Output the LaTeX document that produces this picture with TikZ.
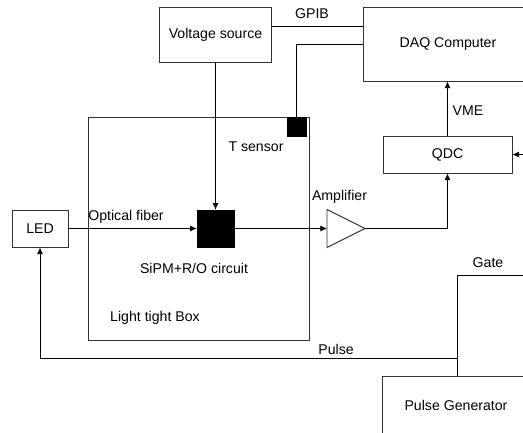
\documentclass[tikz,border=0pt]{standalone}
\usepackage{fontspec}
\setmainfont{Liberation Sans}
\usepackage{tikz}
\usetikzlibrary{positioning, arrows.meta}

\begin{document}
\begin{tikzpicture}[
  x=0.75pt, y=-0.75pt,
  every node/.style={font=\fontsize{10.6}{12}\selectfont},
  block/.style={rectangle, draw=black!80, line width=0.7pt, inner sep=0pt},
  chip/.style={rectangle, fill=black, draw=black, inner sep=0pt},
  label/.style={inner sep=1pt},
  wire/.style={line width=0.6pt},
  arrow/.style={wire, -{Latex[length=5pt, width=4.5pt]}}
]
\useasboundingbox (0,0) rectangle (523,432);
\clip (0,0) rectangle (523,432);

% Light tight box
\node[block, minimum width=165.75pt, minimum height=167.25pt] (ltbox) at (198.5,228.5) {};
\node[label] (ltlbl) at (155,318) {Light tight Box};

% Blocks
\node[block, minimum width=84pt, minimum height=41.25pt] (vsrc) at (215.5,34.5) {Voltage source};
\node[block, minimum width=127.5pt, minimum height=55.5pt] (daq) at (448,44) {DAQ Computer};
\node[block, minimum width=96.75pt, minimum height=27.75pt] (qdc) at (447.5,154.5) {QDC};
\node[block, minimum width=42pt, minimum height=27.75pt] (led) at (40,228.5) {LED};
\node[block, minimum width=111pt, minimum height=43.5pt] (pgen) at (456,405) {Pulse Generator};

% SiPM and T sensor
\node[chip, minimum size=27.75pt] (sipm) at (215.5,228.5) {};
\node[chip, minimum size=14.5pt] (tsens) at (296.5,127) {};

% Amplifier
\coordinate (ampin) at (327,228.5);
\coordinate (ampout) at (365,228.5);
\draw[block] (327,209.5) -- (ampout) -- (327,247.5) -- cycle;

% Helper points
\coordinate (gpib) at (vsrc.east |- 0,26);
\coordinate (gatefoot) at (457,376);
\coordinate (pulsecorner) at (457,358);
\coordinate (gatecorner) at (545,275);

% Connectors
\draw[wire] (gpib) -- (gpib -| daq.west);
\draw[wire] (tsens.north) |- (daq.west);
\draw[arrow] (vsrc.south) -- (sipm.north);
\draw[arrow] (led) -- (sipm);
\draw[arrow] (sipm) -- (ampin);
\draw[arrow] (ampout) -| (qdc.south);
\draw[arrow] (qdc.north) -- (qdc.north |- daq.south);
\draw[arrow] (gatefoot) -- (pulsecorner) -| (led.south);
\draw[arrow] (gatefoot) |- (gatecorner) |- (qdc.east);

% Labels
\node[label] (gpiblbl) at (312,14) {GPIB};
\node[label] (tslbl) at (256,147) {T sensor};
\node[label] (fiberlbl) at (126,217) {Optical fiber};
\node[label] (sipmlbl) at (194,268) {SiPM+R/O circuit};
\node[label] (amplbl) at (339.5,197) {Amplifier};
\node[label] (vmelbl) at (468,110.5) {VME};
\node[label] (gatelbl) at (488,263) {Gate};
\node[label] (pulselbl) at (336,349.5) {Pulse};

\end{tikzpicture}
\end{document}
